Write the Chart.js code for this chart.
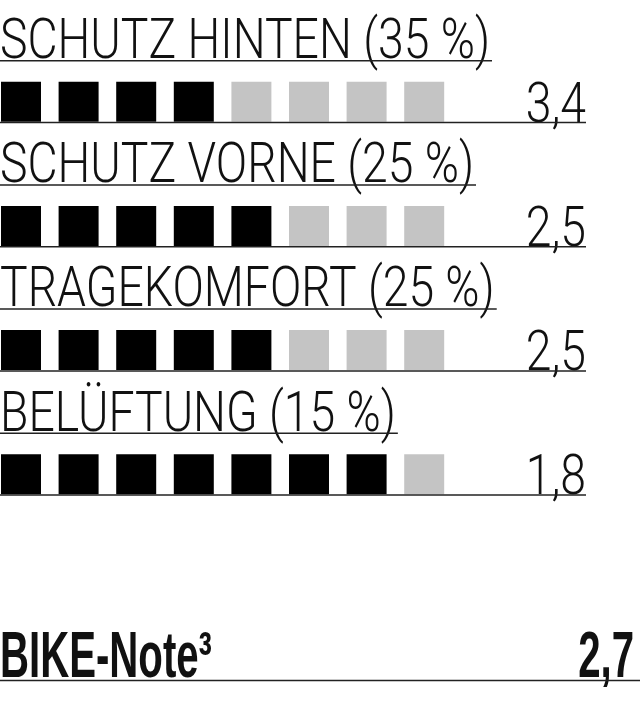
<!DOCTYPE html>
<html>
<head>
<meta charset="utf-8">
<script src="https://cdn.jsdelivr.net/npm/chart.js@4.4.1/dist/chart.umd.min.js"></script>
<style>
  html, body { margin: 0; padding: 0; background: #fff; }
  #wrap { width: 640px; height: 720px; }
</style>
</head>
<body>
<div id="wrap"><canvas id="noteChart"></canvas></div>
<script>
// Kategorien, Gewichtung und Noten
const categories = ['SCHUTZ HINTEN', 'SCHUTZ VORNE', 'TRAGEKOMFORT', 'BELÜFTUNG'];
const weights = [35, 25, 25, 15];
const grades = ['3,4', '2,5', '2,5', '1,8'];
const filledSquares = [4, 5, 5, 7];
const totalSquares = 8;
const summaryLabel = 'BIKE-Note³';
const summaryGrade = '2,7';

const BLACK = '#000000';
const GRAY = '#c4c4c4';
const LIGHT_FONT = '300 56px Roboto, "Liberation Sans", sans-serif';
const BOLD_FONT = 'bold 65px "Liberation Sans", Roboto, sans-serif';

// Punkte (Quadrate) aus den Arrays aufbauen
const points = [];
const colors = [];
categories.forEach((cat, r) => {
    for (let i = 0; i < totalSquares; i++) {
        points.push({ x: i, y: r });
        colors.push(i < filledSquares[r] ? BLACK : GRAY);
    }
});

const titles = categories.map((c, i) => `${c} (${weights[i]} %)`);

// Texte und Linien zeichnen
const textPlugin = {
    id: 'noteText',
    afterDatasetsDraw(chart) {
        const ctx = chart.ctx;
        const yScale = chart.scales.y;
        const valueRight = 586;

        ctx.save();
        ctx.fillStyle = '#111';
        ctx.strokeStyle = '#222';
        ctx.lineWidth = 1.5;
        ctx.textBaseline = 'alphabetic';

        ctx.font = LIGHT_FONT;
        const sx = 490 / ctx.measureText(titles[0]).width;

        const drawText = (text, x, y, align, scaleX) => {
            ctx.save();
            ctx.translate(x, y);
            ctx.scale(scaleX, 1);
            ctx.textAlign = align;
            ctx.fillText(text, 0, 0);
            ctx.restore();
        };
        const hLine = (x1, x2, y) => {
            ctx.beginPath();
            ctx.moveTo(x1, y);
            ctx.lineTo(x2, y);
            ctx.stroke();
        };

        titles.forEach((t, r) => {
            const cy = yScale.getPixelForValue(r);
            ctx.font = LIGHT_FONT;
            const w = ctx.measureText(t).width * sx;
            drawText(t, 0, cy - 43.7, 'left', sx);
            hLine(0, w + 2, cy - 41);

            drawText(grades[r], valueRight, cy + 20, 'right', sx);
            hLine(0, valueRight, cy + 20.8);
        });

        // Gesamtnote
        const sy = yScale.getPixelForValue(categories.length);
        ctx.font = BOLD_FONT;
        const bx = 212 / ctx.measureText(summaryLabel).width;
        drawText(summaryLabel, 0, sy + 78.5, 'left', bx);
        drawText(summaryGrade, 634, sy + 78.5, 'right', bx);
        hLine(0, chart.width, sy + 82);

        ctx.restore();
    }
};

const ctx = document.getElementById('noteChart').getContext('2d');
new Chart(ctx, {
    type: 'scatter',
    data: {
        datasets: [{
            data: points,
            pointStyle: 'rect',
            pointRadius: 28.28,
            pointHoverRadius: 28.28,
            pointBackgroundColor: colors,
            pointBorderWidth: 0,
            borderWidth: 0,
            clip: false
        }]
    },
    options: {
        responsive: true,
        maintainAspectRatio: false,
        animation: false,
        layout: { padding: 0, autoPadding: false },
        plugins: {
            legend: { display: false },
            tooltip: { enabled: false }
        },
        scales: {
            x: { type: 'linear', display: false, min: -0.3646, max: 10.7465 },
            y: { type: 'linear', display: false, reverse: true, min: -0.8188, max: 4.978 }
        }
    },
    plugins: [textPlugin]
});
</script>
</body>
</html>
